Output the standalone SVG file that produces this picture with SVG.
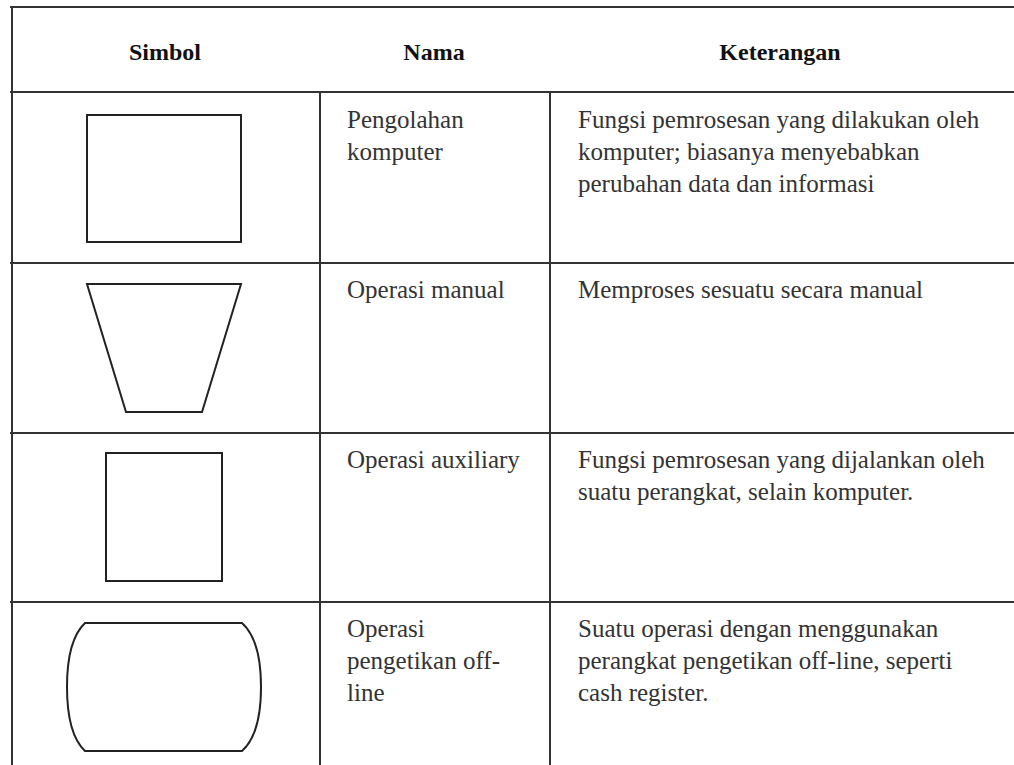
<svg xmlns="http://www.w3.org/2000/svg" width="1014" height="765" viewBox="0 0 1014 765">
<style>
.grid{stroke:#333;stroke-width:2;fill:none}
.sym{stroke:#222;stroke-width:2;fill:#fff}
</style>
<rect width="1014" height="765" fill="#fff"/>
<g id="grid">
<line class="grid" x1="10" y1="7" x2="1014" y2="7"/>
<line class="grid" x1="10" y1="92" x2="1014" y2="92"/>
<line class="grid" x1="10" y1="263" x2="1014" y2="263"/>
<line class="grid" x1="10" y1="433" x2="1014" y2="433"/>
<line class="grid" x1="10" y1="602" x2="1014" y2="602"/>
<line class="grid" x1="12" y1="7" x2="12" y2="765"/>
<line class="grid" x1="320" y1="92" x2="320" y2="765"/>
<line class="grid" x1="550" y1="92" x2="550" y2="765"/>
</g>
<g id="header">
<text font-family="Times New Roman" font-weight="bold" font-size="24" fill="#111" text-anchor="middle" x="165" y="60">Simbol</text>
<text font-family="Times New Roman" font-weight="bold" font-size="24" fill="#111" text-anchor="middle" x="434" y="60">Nama</text>
<text font-family="Times New Roman" font-weight="bold" font-size="24" fill="#111" text-anchor="middle" x="780" y="60">Keterangan</text>
</g>
<g id="row1">
<rect class="sym" x="87" y="115" width="154" height="127"/>
<text font-family="Times New Roman" font-size="25" fill="#333" x="347" y="128">Pengolahan</text>
<text font-family="Times New Roman" font-size="25" fill="#333" x="347" y="160">komputer</text>
<text font-family="Times New Roman" font-size="25" fill="#333" x="578" y="128">Fungsi pemrosesan yang dilakukan oleh</text>
<text font-family="Times New Roman" font-size="25" fill="#333" x="578" y="160">komputer; biasanya menyebabkan</text>
<text font-family="Times New Roman" font-size="25" fill="#333" x="578" y="192">perubahan data dan informasi</text>
</g>
<g id="row2">
<polygon class="sym" points="87,284 241,284 202,412 126,412"/>
<text font-family="Times New Roman" font-size="25" fill="#333" x="347" y="298">Operasi manual</text>
<text font-family="Times New Roman" font-size="25" fill="#333" x="578" y="298">Memproses sesuatu secara manual</text>
</g>
<g id="row3">
<rect class="sym" x="106" y="453" width="116" height="128"/>
<text font-family="Times New Roman" font-size="25" fill="#333" x="347" y="468">Operasi auxiliary</text>
<text font-family="Times New Roman" font-size="25" fill="#333" x="578" y="468">Fungsi pemrosesan yang dijalankan oleh</text>
<text font-family="Times New Roman" font-size="25" fill="#333" x="578" y="500">suatu perangkat, selain komputer.</text>
</g>
<g id="row4">
<path class="sym" d="M85,623 L242,623 Q261,640 261,687 Q261,734 242,751 L85,751 Q67,734 67,687 Q67,640 85,623 Z"/>
<text font-family="Times New Roman" font-size="25" fill="#333" x="347" y="637">Operasi</text>
<text font-family="Times New Roman" font-size="25" fill="#333" x="347" y="669">pengetikan off-</text>
<text font-family="Times New Roman" font-size="25" fill="#333" x="347" y="701">line</text>
<text font-family="Times New Roman" font-size="25" fill="#333" x="578" y="637">Suatu operasi dengan menggunakan</text>
<text font-family="Times New Roman" font-size="25" fill="#333" x="578" y="669">perangkat pengetikan off-line, seperti</text>
<text font-family="Times New Roman" font-size="25" fill="#333" x="578" y="701">cash register.</text>
</g>
</svg>
